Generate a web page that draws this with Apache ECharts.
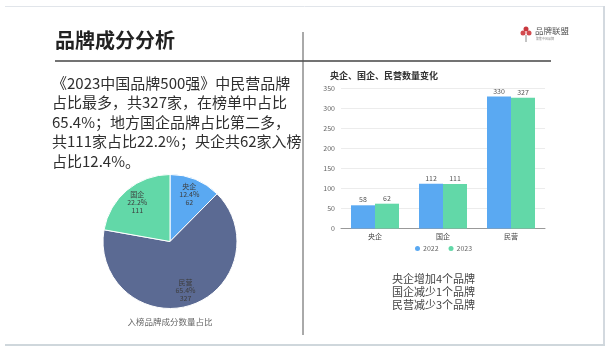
<!DOCTYPE html>
<html>
<head>
    <meta charset="utf-8">
    <title>品牌成分分析</title>
    <script src="https://cdn.jsdelivr.net/npm/echarts@6/dist/echarts.min.js"></script>
    <style>
        html, body { margin: 0; padding: 0; background: #fff; }
    </style>
</head>
<body>
    <div id="main" style="width:611px;height:349px;"></div>
    <script type="text/javascript">
        // 数据
        var pieNames = ['央企', '民营', '国企'];
        var pieValues = [62, 327, 111];
        var barCategories = ['央企', '国企', '民营'];
        var values2022 = [58, 112, 330];
        var values2023 = [62, 111, 327];
        var seriesNames = ['2022', '2023'];
        var yTicks = [0, 50, 100, 150, 200, 250, 300, 350];
        var introLines = [
            '《2023中国品牌500强》中民营品牌',
            '占比最多，共327家，在榜单中占比',
            '65.4%；地方国企品牌占比第二多，',
            '共111家占比22.2%；央企共62家入榜',
            '占比12.4%。'
        ];
        var noteLines = ['央企增加4个品牌', '国企减少1个品牌', '民营减少3个品牌'];

        var FONT = '"Noto Sans CJK SC", "Noto Sans", sans-serif';
        var BLUE = '#5aa9f2', GREEN = '#62d8a8', SLATE = '#5b6a93';

        var myChart = echarts.init(document.getElementById('main'));

        var pieData = [];
        for (var i = 0; i < pieNames.length; i++) {
            pieData.push({ name: pieNames[i], value: pieValues[i] });
        }

        var graphics = [
            // 页面边框
            { type: 'line', shape: { x1: 5, y1: 6.5, x2: 604, y2: 6.5 }, style: { stroke: '#e1e5ea', lineWidth: 1 } },
            { type: 'line', shape: { x1: 604, y1: 6, x2: 604, y2: 345 }, style: { stroke: '#d3d9df', lineWidth: 2 } },
            { type: 'line', shape: { x1: 5, y1: 345, x2: 605, y2: 345 }, style: { stroke: '#cfd7dc', lineWidth: 2 } },
            // 标题
            { type: 'text', style: { text: '品牌成分分析', x: 55, y: 40, font: 'bold 20px ' + FONT, fill: '#222', textVerticalAlign: 'middle' } },
            { type: 'line', shape: { x1: 55, y1: 61, x2: 551, y2: 61 }, style: { stroke: '#444', lineWidth: 1.5 } },
            { type: 'line', shape: { x1: 303, y1: 32, x2: 303, y2: 335 }, style: { stroke: '#555', lineWidth: 1 } },
            // logo
            { type: 'circle', shape: { cx: 526, cy: 29, r: 2.5 }, style: { fill: '#c9383e' } },
            { type: 'circle', shape: { cx: 523, cy: 33, r: 2.5 }, style: { fill: '#d24b4f' } },
            { type: 'circle', shape: { cx: 529, cy: 33, r: 2.5 }, style: { fill: '#d24b4f' } },
            { type: 'line', shape: { x1: 526, y1: 35, x2: 526, y2: 42 }, style: { stroke: '#888', lineWidth: 1 } },
            { type: 'text', style: { text: '品牌联盟', x: 535, y: 31, font: '8.5px ' + FONT, fill: '#555', textVerticalAlign: 'middle' } },
            { type: 'text', style: { text: '聚焦中国品牌', x: 536, y: 38.5, font: '3px ' + FONT, fill: '#888', textVerticalAlign: 'middle' } },
            // 说明文字
            { type: 'text', style: { text: introLines.join('\n'), x: 52, y: 73.5, font: '15px ' + FONT, fill: '#2f2f2f', lineHeight: 19.5 } },
            { type: 'text', style: { text: '入榜品牌成分数量占比', x: 170, y: 322, font: '8.5px ' + FONT, fill: '#666', textAlign: 'center', textVerticalAlign: 'middle' } },
            { type: 'text', style: { text: noteLines.join('\n'), x: 392, y: 272.5, font: '11px ' + FONT, fill: '#444', lineHeight: 12.8 } }
        ];

        var option = {
            animation: false,
            textStyle: { fontFamily: FONT },
            title: {
                text: '央企、国企、民营数量变化',
                left: 325,
                top: 66,
                textStyle: { fontSize: 9, fontWeight: 'bold', color: '#333', fontFamily: FONT }
            },
            legend: {
                data: seriesNames,
                left: 410,
                top: 240,
                icon: 'circle',
                itemWidth: 5,
                itemHeight: 5,
                itemGap: 10,
                textStyle: { fontSize: 7, color: '#666', padding: [0, 0, 0, -2] }
            },
            grid: { left: 341, right: 66, top: 88.5, bottom: 120.5 },
            xAxis: {
                type: 'category',
                data: barCategories,
                axisTick: { show: false },
                axisLine: { lineStyle: { color: '#999' } },
                axisLabel: { fontSize: 7, color: '#444', margin: 4 }
            },
            yAxis: {
                type: 'value',
                min: yTicks[0],
                max: yTicks[yTicks.length - 1],
                interval: 50,
                axisLabel: { fontSize: 7, color: '#666', margin: 6 },
                splitLine: { lineStyle: { color: '#ececec' } }
            },
            color: [BLUE, GREEN],
            series: [
                {
                    name: seriesNames[0],
                    type: 'bar',
                    data: values2022,
                    barWidth: 24,
                    barGap: '0%',
                    itemStyle: { color: BLUE },
                    label: { show: true, position: 'top', fontSize: 7, color: '#555', distance: 2 }
                },
                {
                    name: seriesNames[1],
                    type: 'bar',
                    data: values2023,
                    barWidth: 24,
                    itemStyle: { color: GREEN },
                    label: { show: true, position: 'top', fontSize: 7, color: '#555', distance: 2 }
                },
                {
                    type: 'pie',
                    center: [170, 241.5],
                    radius: [0, 67],
                    startAngle: 90,
                    clockwise: true,
                    silent: true,
                    data: pieData,
                    color: [BLUE, SLATE, GREEN],
                    itemStyle: { borderColor: '#fff', borderWidth: 1 },
                    label: { show: false },
                    labelLine: { show: false }
                },
                {
                    // 透明环形仅用于放置标签
                    type: 'pie',
                    center: [170, 241.5],
                    radius: [29, 67],
                    startAngle: 90,
                    clockwise: true,
                    silent: true,
                    data: pieData,
                    itemStyle: { color: 'rgba(0,0,0,0)' },
                    label: {
                        show: true,
                        position: 'inside',
                        formatter: '{b}\n{d}%\n{c}',
                        fontSize: 7,
                        lineHeight: 8,
                        color: '#3d3d3d'
                    },
                    labelLine: { show: false }
                }
            ],
            graphic: graphics
        };

        myChart.setOption(option);
    </script>
</body>
</html>
